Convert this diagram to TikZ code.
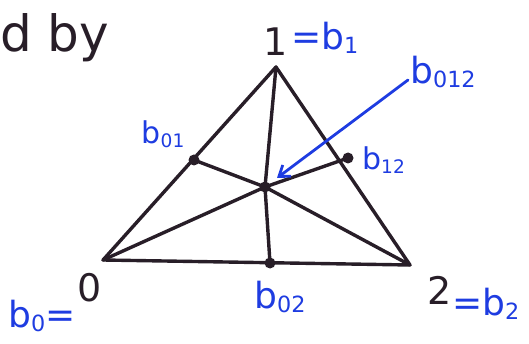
\documentclass[tikz,border=0pt]{standalone}
\usepackage{fontspec}
\setmainfont{DejaVu Sans}
\usetikzlibrary{arrows.meta}
\definecolor{pen}{RGB}{40,30,40}
\definecolor{ink}{RGB}{30,60,225}
\newcommand{\lowsub}[1]{\raisebox{-0.12em}{\scalebox{0.62}{#1}}}
\begin{document}
\begin{tikzpicture}[x=1pt,y=-1pt,
  edge/.style={draw=pen,line width=3.4pt,line cap=round,line join=round},
  dot/.style={circle,fill=pen,inner sep=0pt,minimum size=11pt},
  blk/.style={text=pen,font=\fontsize{38}{38}\selectfont,inner sep=0pt},
  blu/.style={text=ink,font=\fontsize{36}{36}\selectfont,inner sep=0pt},
  sblu/.style={text=ink,font=\fontsize{30}{30}\selectfont,inner sep=0pt},
  ptr/.style={draw=ink,line width=2.8pt,line cap=round,-{Straight Barb[length=10pt,width=14pt]}}]
\useasboundingbox (0,0) rectangle (529,344);
% vertices
\coordinate (v1) at (276,67);
\coordinate (v0) at (103,260);
\coordinate (v2) at (410,265);
\coordinate (m01) at (194,160);
\coordinate (m12) at (348,158);
\coordinate (m02) at (270,263);
\coordinate (c) at (265,187);
% edges
\draw[edge] (v0) -- (v1) -- (v2) -- cycle;
\draw[edge] (v0) -- (c) -- (m12);
\draw[edge] (v1) -- (c) -- (m02);
\draw[edge] (v2) -- (c) -- (m01);
% dots
\node[dot] (d01) at (m01) {};
\node[dot] (d12) at (m12) {};
\node[dot] (d02) at (m02) {};
\node[dot] (dc) at (c) {};
% top-left text
\node[blk,font=\fontsize{50}{50}\selectfont,anchor=west] (dby) at (0,38) {d by};
% labels
\node[blk] (one) at (276,42) {1};
\node[blu,anchor=west] (b1) at (291,38) {=b\lowsub{1}};
\node[blu,anchor=west] (b012) at (410,72) {b\lowsub{012}};
\node[sblu] (b01) at (163,134) {b\lowsub{01}};
\node[sblu,anchor=west] (b12) at (362,160) {b\lowsub{12}};
\node[blk] (zero) at (90,288) {0};
\node[blu] (b0) at (42,316) {b\lowsub{0}=};
\node[blu] (b02) at (280,297) {b\lowsub{02}};
\node[blk] (two) at (440,290) {2};
\node[blu,anchor=west] (b2) at (452,304) {=b\lowsub{2}};
% pointer
\coordinate (ps) at (408,80);
\draw[ptr] (ps) -- (277,178);
\end{tikzpicture}
\end{document}
